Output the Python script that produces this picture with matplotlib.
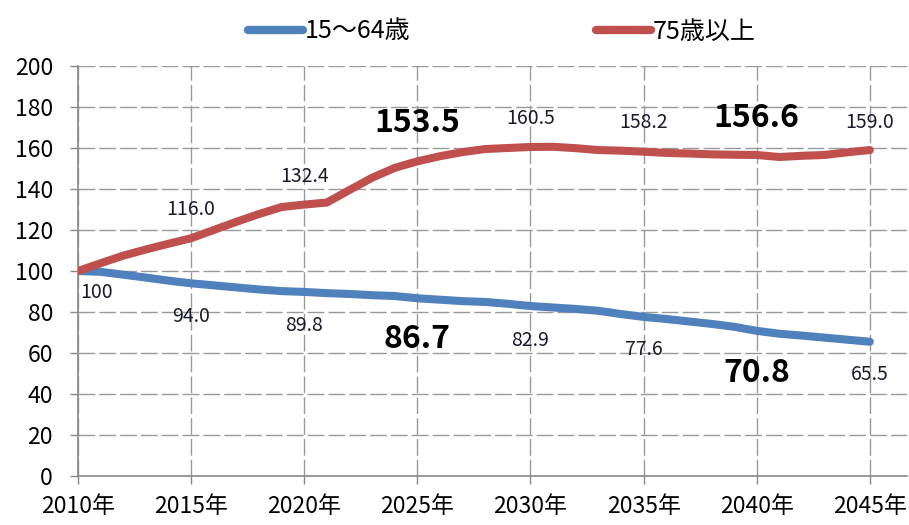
import matplotlib

matplotlib.use("Agg")

import matplotlib.pyplot as plt
from matplotlib.lines import Line2D

plt.rcParams["font.family"] = ["Noto Sans CJK JP", "DejaVu Sans"]

# yearly index (2010 = 100)
years = list(range(2010, 2046))
working_age = [
    100.0, 99.6, 98.2, 96.8, 95.3, 94.0, 93.0, 92.0, 91.0, 90.2,
    89.8, 89.2, 88.8, 88.2, 87.8, 86.7, 86.0, 85.3, 84.9, 84.0,
    82.9, 82.2, 81.5, 80.6, 79.0, 77.6, 76.6, 75.4, 74.2, 72.8,
    70.8, 69.4, 68.5, 67.5, 66.5, 65.5,
]
elderly = [
    100.0, 103.8, 107.5, 110.5, 113.3, 116.0, 120.0, 124.0, 127.8, 131.2,
    132.4, 133.4, 139.5, 145.5, 150.3, 153.5, 156.0, 158.0, 159.5, 160.0,
    160.5, 160.6, 159.9, 159.0, 158.7, 158.2, 157.6, 157.3, 156.9, 156.7,
    156.6, 155.6, 156.2, 156.6, 157.9, 159.0,
]

series_labels = ["15～64歳", "75歳以上"]
colors = ["#4F81BD", "#C0504D"]

label_years = [2010, 2015, 2020, 2025, 2030, 2035, 2040, 2045]
# which of the labels are shown large and bold
big_years = [2025, 2040]

x_ticks = list(range(2010, 2046, 5))
x_ticklabels = [f"{y}年" for y in x_ticks]
y_ticks = list(range(0, 201, 20))

fig = plt.figure(figsize=(9.09, 5.25), dpi=100)
ax = fig.add_axes([0.0858, 0.0933, 0.9122, 0.781])

ax.plot(years, working_age, color=colors[0], lw=5.8, solid_capstyle="round",
        solid_joinstyle="round", zorder=3)
ax.plot(years, elderly, color=colors[1], lw=5.8, solid_capstyle="round",
        solid_joinstyle="round", zorder=3)

# value labels: offset (data units) below the blue line / above the red line
blue_dy = {2010: -10.5, 2015: -16.0, 2020: -16.4, 2025: -20.0, 2030: -16.6,
           2035: -16.1, 2040: -20.5, 2045: -16.2}
red_dy = {2015: 13.8, 2020: 13.9, 2025: 18.5, 2030: 14.1, 2035: 14.0,
          2040: 18.2, 2045: 13.2}

for y in label_years:
    i = years.index(y)
    big = y in big_years
    kw = dict(fontsize=23 if big else 14, fontweight="bold" if big else "normal",
              ha="center", va="center", color="black" if big else "#1a1a2e", zorder=4)
    v = working_age[i]
    txt = "100" if y == 2010 else f"{v:.1f}"
    bx = y + 0.8 if y == 2010 else y
    ax.text(bx, v + blue_dy[y], txt, **kw)
    if y in red_dy:
        r = elderly[i]
        ax.text(y, r + red_dy[y], f"{r:.1f}", **kw)

ax.set_xlim(2010, 2046.65)
ax.set_ylim(0, 200)
ax.set_xticks(x_ticks)
ax.set_xticklabels(x_ticklabels, fontsize=16.5)
ax.set_yticks(y_ticks)
ax.set_yticklabels([str(v) for v in y_ticks], fontsize=16.5)
ax.tick_params(axis="both", length=6, width=1, color="#888888")
ax.tick_params(axis="x", pad=8)
ax.tick_params(axis="y", pad=12)

ax.grid(True, color="#999999", lw=1.0, linestyle=(0, (12, 3)))
ax.set_axisbelow(True)
for side in ("top", "right"):
    ax.spines[side].set_visible(False)
for side in ("left", "bottom"):
    ax.spines[side].set_color("#888888")
    ax.spines[side].set_linewidth(1.2)

handles = [Line2D([], [], color=c, lw=6, solid_capstyle="round") for c in colors]
fig.legend(handles, series_labels, loc="center", bbox_to_anchor=(0.552, 0.94),
           ncol=2, frameon=False, fontsize=18, handlelength=2.2, handletextpad=0.1,
           columnspacing=7.4)

fig.savefig("out.png", dpi=100)
